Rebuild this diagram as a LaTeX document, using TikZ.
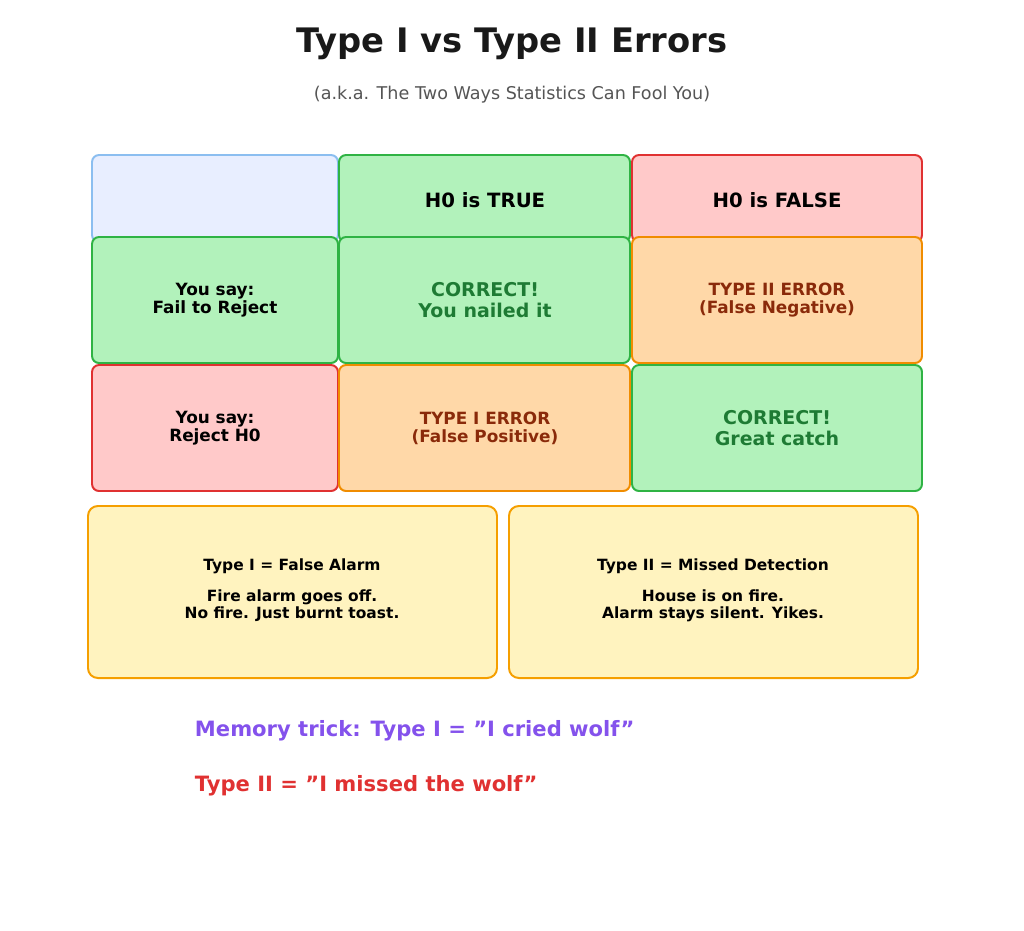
\documentclass[tikz,border=0pt]{standalone}
\usepackage{fontspec}
\setmainfont{DejaVu Sans}
\begin{document}
\definecolor{blueF}{HTML}{E8EEFF}\definecolor{blueD}{HTML}{8BBEF0}
\definecolor{greenF}{HTML}{B2F2BB}\definecolor{greenD}{HTML}{2FB344}
\definecolor{redF}{HTML}{FFC9C9}\definecolor{redD}{HTML}{E03131}
\definecolor{orangeF}{HTML}{FFD8A8}\definecolor{orangeD}{HTML}{F08C00}
\definecolor{yellowF}{HTML}{FFF3BF}\definecolor{yellowD}{HTML}{F59F00}
\definecolor{greenT}{HTML}{1E7B34}\definecolor{brownT}{HTML}{8A2A0A}
\definecolor{purpleT}{HTML}{8452EC}\definecolor{greyT}{HTML}{555555}
\begin{tikzpicture}[x=0.025cm,y=-0.025cm,
    cell/.style={draw=#1D, fill=#1F, line width=1.4pt, rounded corners=5pt, anchor=north west},
    lbl/.style={font=\bfseries\fontsize{12}{13}\selectfont, align=center}]
  \useasboundingbox (0,0) rectangle (1024,930);

  \node[font=\bfseries\fontsize{24}{28}\selectfont, text=black!90] (title) at (512,44) {Type I vs Type II Errors};
  \node[font=\fontsize{12.5}{14}\selectfont, text=greyT] (subtitle) at (512,95) {(a.k.a. The Two Ways Statistics Can Fool You)};

  % header row
  \draw[cell=blue] (92,155) rectangle (338,242);
  \draw[cell=green] (339,155) rectangle (630,242);
  \draw[cell=red] (632,155) rectangle (922,242);
  \node[lbl, font=\bfseries\fontsize{14}{16}\selectfont] (htrue) at (485,200) {H0 is TRUE};
  \node[lbl, font=\bfseries\fontsize{14}{16}\selectfont] (hfalse) at (777,200) {H0 is FALSE};

  % second row
  \draw[cell=green] (92,237) rectangle (338,363);
  \draw[cell=green] (339,237) rectangle (630,363);
  \draw[cell=orange] (632,237) rectangle (922,363);
  \node[lbl] (keep) at (215,300) {You say:\\Fail to Reject};
  \node[lbl, text=greenT, font=\bfseries\fontsize{13.5}{15}\selectfont] (ok1) at (485,300) {CORRECT!\\You nailed it};
  \node[lbl, text=brownT] (err2) at (777,300) {TYPE II ERROR\\(False Negative)};

  % third row
  \draw[cell=red] (92,365) rectangle (338,491);
  \draw[cell=orange] (339,365) rectangle (630,491);
  \draw[cell=green] (632,365) rectangle (922,491);
  \node[lbl] (reject) at (215,428) {You say:\\Reject H0};
  \node[lbl, text=brownT] (err1) at (485,428) {TYPE I ERROR\\(False Positive)};
  \node[lbl, text=greenT, font=\bfseries\fontsize{13.5}{15}\selectfont] (ok2) at (777,428) {CORRECT!\\Great catch};

  % analogies
  \draw[cell=yellow, rounded corners=7pt] (88,506) rectangle (497,678);
  \draw[cell=yellow, rounded corners=7pt] (509,506) rectangle (918,678);
  \node[lbl, font=\bfseries\fontsize{11}{12}\selectfont] (alarm) at (292,590) {Type I = False Alarm\\[0.9em]Fire alarm goes off.\\No fire. Just burnt toast.};
  \node[lbl, font=\bfseries\fontsize{11}{12}\selectfont] (miss) at (713,590) {Type II = Missed Detection\\[0.9em]House is on fire.\\Alarm stays silent. Yikes.};

  % memory trick
  \node[font=\bfseries\fontsize{15}{17}\selectfont, text=purpleT, anchor=west] (trick) at (190,731) {Memory trick: Type I = "I cried wolf"};
  \node[font=\bfseries\fontsize{15}{17}\selectfont, text=redD, anchor=west] (trick2) at (190,786) {Type II = "I missed the wolf"};
\end{tikzpicture}
\end{document}
